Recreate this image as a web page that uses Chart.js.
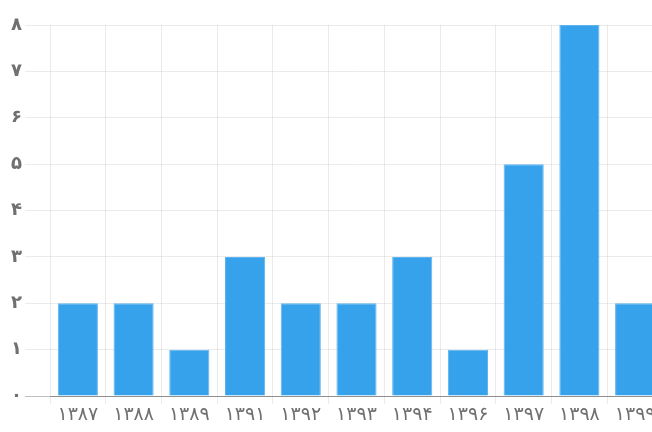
<!DOCTYPE html>
<html>
<head>
<meta charset="utf-8">
<script src="https://cdn.jsdelivr.net/npm/chart.js@4"></script>
<style>
html,body{margin:0;padding:0;background:#fff;overflow:hidden;}
#wrap{width:652px;height:432px;overflow:hidden;}
</style>
</head>
<body>
<div id="wrap"><canvas id="c" width="664" height="432"></canvas></div>
<script>
const categories = ['۱۳۸۷','۱۳۸۸','۱۳۸۹','۱۳۹۱','۱۳۹۲','۱۳۹۳','۱۳۹۴','۱۳۹۶','۱۳۹۷','۱۳۹۸','۱۳۹۹'];
const values = [2, 2, 1, 3, 2, 2, 3, 1, 5, 8, 2];
const yTickLabels = ['۰','۱','۲','۳','۴','۵','۶','۷','۸'];

new Chart(document.getElementById('c'), {
  type: 'bar',
  data: {
    labels: categories,
    datasets: [{
      data: values,
      backgroundColor: '#36A2EB',
      borderColor: '#5db4ef',
      borderWidth: 1
    }]
  },
  options: {
    responsive: false,
    animation: false,
    layout: { padding: { top: 25, right: 1, left: 0, bottom: 0 } },
    plugins: { legend: { display: false }, tooltip: { enabled: false } },
    scales: {
      x: {
        grid: { color: 'rgba(0,0,0,0.08)', tickLength: 8, offset: true },
        border: { color: 'rgba(0,0,0,0.25)' },
        ticks: { color: '#707070', font: { family: 'DejaVu Sans', size: 19 }, padding: 0, maxRotation: 0, autoSkip: false },
        afterFit: s => { s.height = 36; }
      },
      y: {
        min: 0, max: 8,
        grid: { color: ctx => (ctx.tick && ctx.tick.value === 0) ? 'rgba(0,0,0,0.25)' : 'rgba(0,0,0,0.08)', tickLength: 25 },
        border: { display: false },
        ticks: { stepSize: 1, color: '#707070', font: { family: 'DejaVu Sans', size: 18, weight: 'bold' }, padding: 3,
                 callback: v => yTickLabels[v] },
        afterFit: s => { s.width = 50; }
      }
    }
  }
});
</script>
</body>
</html>
